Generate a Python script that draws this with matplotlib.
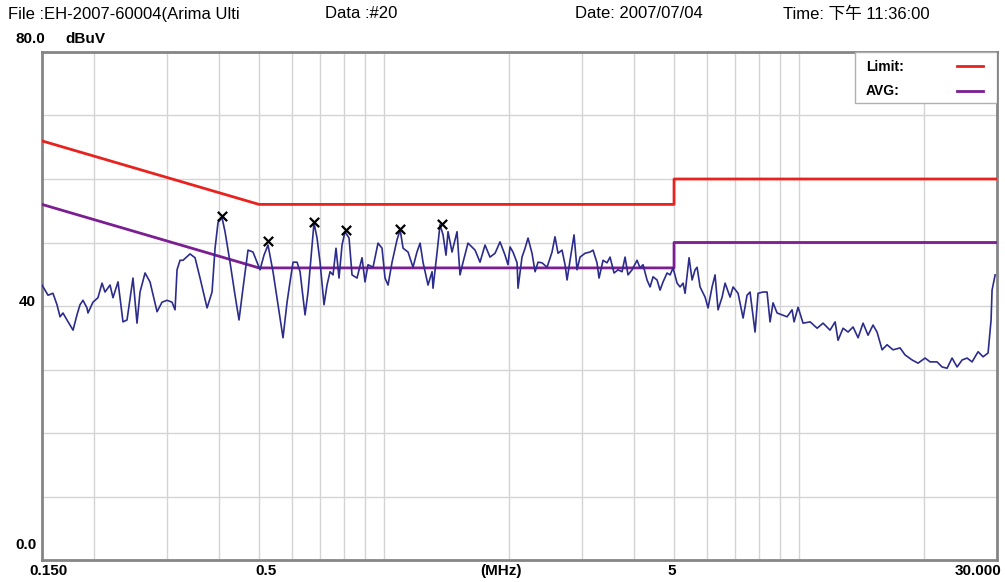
import matplotlib.pyplot as plt
from matplotlib.patches import Rectangle

# header info
header_file = "File :EH-2007-60004(Arima Ulti"
header_data = "Data :#20"
header_date = "Date: 2007/07/04"
header_time = "Time: 下午 11:36:00"

# limit lines (MHz, dBuV)
limit_freq = [0.15, 0.5, 5, 5, 30]
limit_qp = [66, 56, 56, 60, 60]
limit_avg = [56, 46, 46, 50, 50]

freq_mhz = [
    0.150, 0.1525, 0.1551, 0.1594, 0.1630, 0.1658, 0.1685, 0.1723, 0.1782, 0.1821,
    0.1852, 0.1883, 0.1925, 0.1936, 0.1990, 0.2046, 0.2093, 0.2128, 0.2188, 0.2224,
    0.2287, 0.2351, 0.2404, 0.2485, 0.2541, 0.2584, 0.2657, 0.2731, 0.2840, 0.2919,
    0.3002, 0.3086, 0.3138, 0.3173, 0.3226, 0.3280, 0.3410, 0.3506, 0.3605, 0.3748,
    0.3853, 0.3918, 0.3984, 0.4073, 0.4141, 0.4257, 0.4377, 0.4475, 0.4575, 0.4704,
    0.4836, 0.4945, 0.5028, 0.5140, 0.5256, 0.5404, 0.5587,
    0.5712, 0.5842, 0.5939, 0.6039, 0.6175, 0.6279, 0.6455, 0.6563, 0.6710, 0.6784,
    0.6899, 0.7015, 0.7172, 0.7292, 0.7415, 0.7539, 0.7665, 0.7794, 0.7925, 0.8058,
    0.8240, 0.8377, 0.8612, 0.8855, 0.9003, 0.9154, 0.9412, 0.9676, 0.9894, 1.006,
    1.023, 1.046, 1.075, 1.094, 1.112, 1.143, 1.175, 1.201, 1.222, 1.242,
    1.277, 1.306, 1.313, 1.343, 1.365, 1.388, 1.411, 1.427, 1.459, 1.500,
    1.525, 1.551, 1.594, 1.658, 1.704, 1.752, 1.801, 1.852, 1.904, 1.958, 1.990,
    2.013, 2.046, 2.093, 2.104, 2.151, 2.188, 2.224, 2.274, 2.313, 2.351,
    2.404, 2.472, 2.541, 2.583, 2.627, 2.686, 2.731, 2.762, 2.808, 2.871,
    2.919, 2.968, 3.051, 3.137, 3.190, 3.261, 3.298, 3.372, 3.447, 3.506,
    3.584, 3.665, 3.747, 3.810, 3.873, 3.961, 4.072, 4.141, 4.210, 4.304,
    4.377, 4.451, 4.550, 4.627, 4.705, 4.810, 4.892, 4.973, 5.085, 5.170,
    5.257, 5.316, 5.435, 5.527, 5.619, 5.682, 5.777, 5.939, 6.039, 6.175,
    6.278, 6.383, 6.528, 6.637, 6.823, 6.938, 7.133, 7.334, 7.497,
    7.622, 7.837, 7.969, 8.192, 8.377, 8.517, 8.660, 8.856, 9.104, 9.361,
    9.624, 9.731, 9.950, 10.23, 10.64, 11.06, 11.43, 11.88, 12.22, 12.42,
    12.77, 13.13, 13.50, 13.88, 14.27, 14.67, 15.08, 15.42, 15.86, 16.30,
    16.85, 17.52, 18.01, 18.73, 19.36, 20.13, 20.70, 21.51, 22.12, 22.74,
    23.38, 24.04, 24.72, 25.41, 26.13, 27.01, 27.77, 28.55, 29.03, 29.19, 29.69,
]
level_dbuv = [
    43.3, 42.5, 41.7, 42.0, 40.2, 38.3, 38.9, 37.8, 36.2, 38.6,
    40.2, 40.9, 39.7, 38.9, 40.6, 41.3, 43.6, 42.2, 43.3, 41.3,
    43.8, 37.5, 37.8, 44.4, 37.3, 42.2, 45.2, 43.8, 39.1, 40.6,
    40.9, 40.6, 39.4, 45.7, 47.2, 47.2, 48.2, 47.6, 44.4, 39.7,
    42.2, 49.1, 53.2, 53.9, 51.7, 46.9, 41.7, 37.8, 42.8, 48.8,
    48.5, 46.9, 45.7, 48.0, 49.6, 45.4, 39.1,
    35.0, 40.6, 43.8, 46.9, 46.9, 45.4, 38.6, 42.2, 49.6, 53.1,
    50.7, 46.9, 40.2, 43.3, 45.4, 44.9, 49.1, 44.4, 49.6, 51.7,
    50.7, 44.9, 44.4, 47.6, 43.8, 46.5, 46.1, 49.9, 49.1, 44.4,
    43.3, 46.9, 50.4, 52.0, 49.1, 48.5, 46.1, 48.5, 49.9, 46.9,
    43.3, 45.4, 42.8, 48.5, 52.8, 51.2, 48.0, 51.7, 48.5, 51.7,
    44.9, 46.9, 49.9, 48.8, 46.9, 49.6, 47.7, 48.3, 50.1, 48.0, 46.5,
    49.3, 48.5, 46.8, 42.8, 47.7, 49.1, 50.7, 48.3, 45.4, 46.9,
    46.8, 46.1, 48.5, 50.9, 48.3, 48.8, 46.5, 44.1, 47.2, 51.2,
    45.7, 47.7, 48.3, 48.5, 48.8, 46.8, 44.4, 47.2, 46.8, 47.7,
    45.2, 45.7, 45.4, 47.7, 44.9, 45.7, 47.2, 46.0, 46.5, 44.1,
    43.0, 44.6, 44.1, 42.5, 43.8, 45.2, 44.9, 46.0, 43.6, 43.0,
    43.6, 42.0, 47.6, 44.1, 45.7, 46.1, 43.0, 41.4, 39.7, 43.0,
    44.9, 39.4, 41.4, 43.6, 41.4, 43.0, 42.0, 38.1, 41.7,
    42.2, 35.9, 42.0, 42.2, 42.2, 37.5, 40.5, 38.9, 38.6, 38.3,
    39.4, 37.5, 39.8, 37.3, 37.5, 36.5, 37.3, 36.2, 37.5, 34.6,
    36.5, 35.9, 36.7, 35.0, 37.3, 35.4, 37.0, 35.9, 33.1, 33.9,
    33.1, 33.4, 32.3, 31.5, 31.0, 31.8, 31.2, 31.2, 30.4, 30.2,
    31.8, 30.4, 31.5, 31.8, 31.2, 32.8, 32.0, 32.6, 37.8, 42.5, 44.9,
]

# peak markers
peak_freq = [0.4073, 0.5256, 0.6784, 0.8100, 1.094, 1.383]
peak_level = [54.1, 50.2, 53.2, 51.9, 52.1, 52.9]

grid_freq = [0.2, 0.3, 0.4, 0.5, 0.6, 0.7, 0.8, 0.9, 1, 2, 3, 4, 5, 6, 7, 8, 9, 10, 20]
grid_level = [10, 20, 30, 40, 50, 60, 70]

W, H = 1005, 582
fig = plt.figure(figsize=(W / 100, H / 100), dpi=100)
ax = fig.add_axes([42 / W, 1 - 560 / H, 955 / W, 508 / H])

ax.set_xscale("log")
ax.set_xlim(0.15, 30)
ax.set_ylim(0, 80)
ax.set_xticks(grid_freq)
ax.set_yticks(grid_level)
ax.minorticks_off()
ax.set_xticklabels([])
ax.set_yticklabels([])
ax.tick_params(length=0)
ax.grid(True, color="#d4d4d4", linewidth=1.0)
for s in ax.spines.values():
    s.set_color("#858585")
    s.set_linewidth(2)

ax.plot(limit_freq, limit_qp, color="#e8231f", linewidth=2.0, zorder=3)
ax.plot(limit_freq, limit_avg, color="#7a1e92", linewidth=2.0, zorder=3)
ax.plot(freq_mhz, level_dbuv, color="#2c2c8c", linewidth=1.2, zorder=4)
ax.scatter(peak_freq, peak_level, marker="x", color="black", s=45, linewidths=1.6, zorder=5)

# legend box
ax.add_patch(Rectangle((813 / 955, 1 - 51 / 508), 142 / 955, 51 / 508, transform=ax.transAxes,
                       facecolor="white", edgecolor="#b0b0b0", linewidth=1, zorder=6))
fig.text(866 / W, 1 - 67 / H, "Limit:", fontsize=10, fontweight="bold", family="Liberation Sans",
         va="center", zorder=7)
fig.text(866 / W, 1 - 91 / H, "AVG:", fontsize=10, fontweight="bold", family="Liberation Sans",
         va="center", zorder=7)
fig.add_artist(plt.Line2D([957 / W, 983 / W], [1 - 66 / H, 1 - 66 / H], color="#e8231f", linewidth=2))
fig.add_artist(plt.Line2D([957 / W, 983 / W], [1 - 91 / H, 1 - 91 / H], color="#7a1e92", linewidth=2))

# header
hfont = ["Liberation Sans", "Noto Sans CJK TC"]
fig.text(8 / W, 1 - 14 / H, header_file, fontsize=12, family=hfont, va="center")
fig.text(325 / W, 1 - 14 / H, header_data, fontsize=12, family=hfont, va="center")
fig.text(575 / W, 1 - 14 / H, header_date, fontsize=12, family=hfont, va="center")
fig.text(783 / W, 1 - 14 / H, header_time, fontsize=12, family=hfont, va="center")

# axis labels
lab = dict(fontsize=11, fontweight="bold", family="Liberation Sans", va="center")
fig.text(15 / W, 1 - 39 / H, "80.0", ha="left", **lab)
fig.text(65 / W, 1 - 39 / H, "dBuV", ha="left", **lab)
fig.text(36 / W, 1 - 302 / H, "40", ha="right", **lab)
fig.text(15 / W, 1 - 545 / H, "0.0", ha="left", **lab)
fig.text(48 / W, 1 - 571 / H, "0.150", ha="center", **lab)
fig.text(266 / W, 1 - 571 / H, "0.5", ha="center", **lab)
fig.text(501 / W, 1 - 571 / H, "(MHz)", ha="center", **lab)
fig.text(672 / W, 1 - 571 / H, "5", ha="center", **lab)
fig.text(1001 / W, 1 - 571 / H, "30.000", ha="right", **lab)

plt.savefig("out.png", dpi=100)
